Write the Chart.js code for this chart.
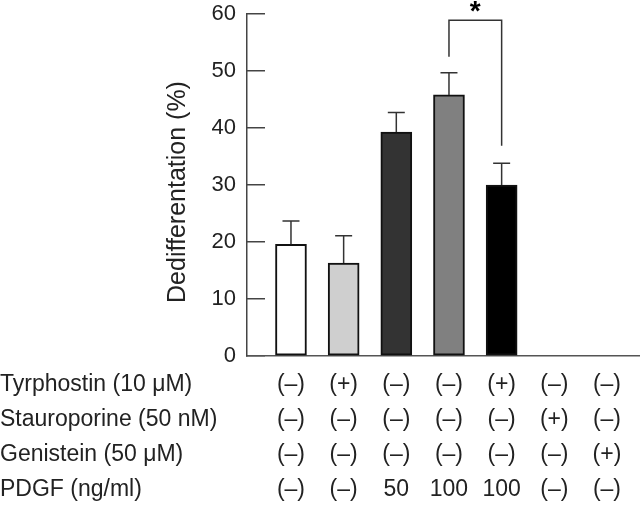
<!DOCTYPE html>
<html>
<head>
<meta charset="utf-8">
<script src="https://cdn.jsdelivr.net/npm/chart.js@4/dist/chart.umd.min.js"></script>
<style>
  html, body { margin: 0; padding: 0; background: #fff; }
  canvas { display: block; }
</style>
</head>
<body>
<canvas id="chart" width="640" height="508"></canvas>
<script>
// values
const groups = [1, 2, 3, 4, 5, 6, 7];
const means = [19.6, 16.3, 39.3, 45.8, 30.0, null, null];
const errors = [4.1, 4.8, 3.4, 3.9, 3.8, null, null];
const barColors = ['#ffffff', '#cfcfcf', '#333333', '#808080', '#000000', '#ffffff', '#ffffff'];
const yTicks = [0, 10, 20, 30, 40, 50, 60];

// significance bracket between group 4 and 5
const sigPair = [4, 5];
const sigTop = 58.9;
const sigLegs = [52.5, 36.9];

// treatment table under the plot
const rowLabels = ['Tyrphostin (10 \u03bcM)', 'Stauroporine (50 nM)', 'Genistein (50 \u03bcM)', 'PDGF (ng/ml)'];
const tyrphostin = ['(\u2013)', '(+)', '(\u2013)', '(\u2013)', '(+)', '(\u2013)', '(\u2013)'];
const staurosporine = ['(\u2013)', '(\u2013)', '(\u2013)', '(\u2013)', '(\u2013)', '(+)', '(\u2013)'];
const genistein = ['(\u2013)', '(\u2013)', '(\u2013)', '(\u2013)', '(\u2013)', '(\u2013)', '(+)'];
const pdgf = ['(\u2013)', '(\u2013)', '50', '100', '100', '(\u2013)', '(\u2013)'];
const tableRows = [tyrphostin, staurosporine, genistein, pdgf];

const FONT = '"Liberation Sans", Arial, Helvetica, sans-serif';
const INK = '#222';

const extras = {
  id: 'extras',
  afterDatasetsDraw(chart) {
    const { ctx, scales: { x, y } } = chart;
    ctx.save();
    ctx.strokeStyle = '#333';
    ctx.lineWidth = 1.5;
    // error bars (upper only)
    groups.forEach((g, i) => {
      if (means[i] == null) return;
      const px = x.getPixelForValue(g);
      const y0 = y.getPixelForValue(means[i]);
      const y1 = y.getPixelForValue(means[i] + errors[i]);
      ctx.beginPath();
      ctx.moveTo(px, y0);
      ctx.lineTo(px, y1);
      ctx.moveTo(px - 8.5, y1);
      ctx.lineTo(px + 8.5, y1);
      ctx.stroke();
    });
    // bracket
    const xa = x.getPixelForValue(sigPair[0]);
    const xb = x.getPixelForValue(sigPair[1]);
    const yt = y.getPixelForValue(sigTop);
    ctx.beginPath();
    ctx.moveTo(xa, y.getPixelForValue(sigLegs[0]));
    ctx.lineTo(xa, yt);
    ctx.lineTo(xb, yt);
    ctx.lineTo(xb, y.getPixelForValue(sigLegs[1]));
    ctx.stroke();
    ctx.fillStyle = '#000';
    ctx.font = 'bold 28px ' + FONT;
    ctx.textAlign = 'center';
    ctx.textBaseline = 'middle';
    ctx.fillText('*', (xa + xb) / 2, yt - 8);
    ctx.restore();
  },
  afterDraw(chart) {
    const { ctx, scales: { x } } = chart;
    ctx.save();
    ctx.fillStyle = INK;
    // y axis title
    ctx.font = '25px ' + FONT;
    ctx.textAlign = 'center';
    ctx.textBaseline = 'middle';
    ctx.translate(178, 192);
    ctx.rotate(-Math.PI / 2);
    ctx.fillText('Dedifferentation (%)', 0, 0);
    ctx.restore();

    ctx.save();
    ctx.fillStyle = INK;
    ctx.font = '23px ' + FONT;
    ctx.textBaseline = 'middle';
    const rowY = [385, 420, 455, 490];
    rowLabels.forEach((lab, r) => {
      ctx.textAlign = 'left';
      ctx.fillText(lab, 0, rowY[r]);
      ctx.textAlign = 'center';
      tableRows[r].forEach((txt, i) => {
        ctx.fillText(txt, x.getPixelForValue(groups[i]), rowY[r]);
      });
    });
    ctx.restore();
  }
};

new Chart(document.getElementById('chart'), {
  type: 'bar',
  data: {
    datasets: [{
      data: groups.map((g, i) => ({ x: g, y: means[i] })),
      backgroundColor: barColors,
      borderColor: '#111',
      borderWidth: 2,
      borderSkipped: false,
      barThickness: 31
    }]
  },
  options: {
    responsive: false,
    animation: false,
    layout: { padding: { top: 14, right: 0, left: 0, bottom: 0 } },
    plugins: { legend: { display: false }, tooltip: { enabled: false } },
    scales: {
      x: {
        type: 'linear',
        offset: false,
        min: 0.165,
        max: 7.627,
        ticks: { display: false },
        grid: { display: false },
        border: { color: '#555', width: 1.5 },
        afterFit(scale) { scale.height = 152; }
      },
      y: {
        min: 0,
        max: 60,
        afterBuildTicks(scale) { scale.ticks = yTicks.map(v => ({ value: v })); },
        ticks: { font: { size: 22, family: FONT }, color: INK, padding: 29 },
        grid: { drawOnChartArea: false, tickLength: -18, color: '#444', lineWidth: 1.5 },
        border: { color: '#444', width: 1.5 },
        afterFit(scale) {
          scale.width = 247;
          // tick padding is only meant to push labels sideways
          scale.paddingTop = 0;
          scale.paddingBottom = 0;
        }
      }
    }
  },
  plugins: [extras]
});
</script>
</body>
</html>
